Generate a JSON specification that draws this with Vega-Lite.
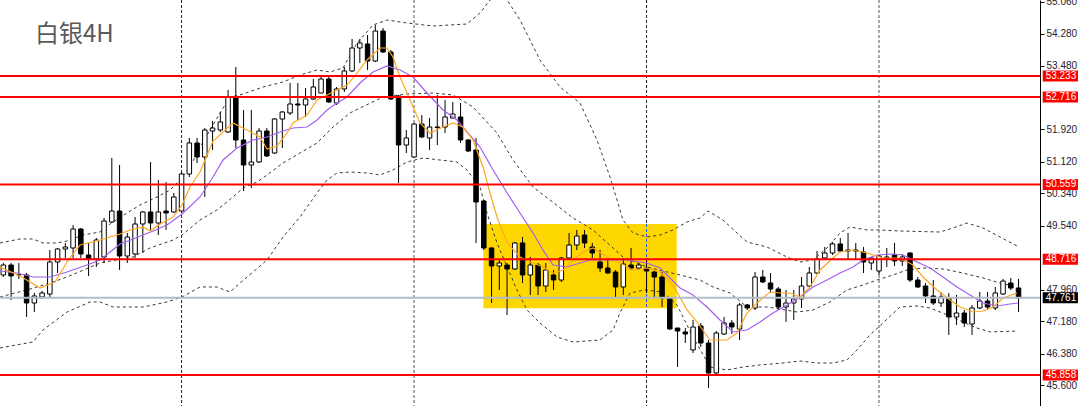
{
  "$schema": "https://vega.github.io/schema/vega-lite/v6.json",
  "width": 1040,
  "height": 406,
  "autosize": {"type": "none"},
  "padding": {"left": 0, "top": 0, "right": 40, "bottom": 0},
  "background": "#ffffff",
  "config": {"view": {"stroke": null}, "axis": {"grid": false}},
  "datasets": {
    "candles": [
      {"i":0,"o":48.325,"h":48.621,"l":48.275,"c":48.571},
      {"i":1,"o":48.571,"h":48.621,"l":47.708,"c":48.300},
      {"i":2,"o":48.33,"h":48.621,"l":48.226,"c":48.33},
      {"i":3,"o":48.325,"h":48.374,"l":47.289,"c":47.634},
      {"i":4,"o":47.634,"h":47.881,"l":47.412,"c":47.807},
      {"i":5,"o":47.782,"h":47.930,"l":47.733,"c":47.881},
      {"i":6,"o":47.856,"h":48.941,"l":47.757,"c":48.645},
      {"i":7,"o":48.645,"h":48.991,"l":48.374,"c":48.966},
      {"i":8,"o":48.966,"h":49.114,"l":48.744,"c":49.015},
      {"i":9,"o":48.991,"h":49.558,"l":48.744,"c":49.459},
      {"i":10,"o":49.459,"h":49.484,"l":48.744,"c":48.843},
      {"i":11,"o":48.818,"h":49.114,"l":48.300,"c":48.720},
      {"i":12,"o":48.720,"h":49.237,"l":48.522,"c":49.188},
      {"i":13,"o":48.769,"h":49.731,"l":48.621,"c":49.657},
      {"i":14,"o":49.632,"h":51.211,"l":49.607,"c":49.903},
      {"i":15,"o":49.903,"h":51.038,"l":48.448,"c":48.793},
      {"i":16,"o":48.793,"h":49.361,"l":48.621,"c":49.262},
      {"i":17,"o":48.843,"h":49.755,"l":48.744,"c":49.583},
      {"i":18,"o":49.583,"h":49.903,"l":48.867,"c":49.879},
      {"i":19,"o":49.879,"h":51.112,"l":49.435,"c":49.607},
      {"i":20,"o":49.607,"h":50.668,"l":49.311,"c":49.879},
      {"i":21,"o":49.903,"h":50.619,"l":49.435,"c":49.854},
      {"i":22,"o":49.879,"h":50.347,"l":49.854,"c":50.249},
      {"i":23,"o":49.903,"h":50.865,"l":49.854,"c":50.816},
      {"i":24,"o":50.816,"h":51.704,"l":50.742,"c":51.581},
      {"i":25,"o":51.581,"h":51.704,"l":51.087,"c":51.235},
      {"i":26,"o":51.235,"h":51.950,"l":50.249,"c":51.901},
      {"i":27,"o":51.876,"h":52.123,"l":51.408,"c":51.950},
      {"i":28,"o":51.901,"h":52.345,"l":51.852,"c":52.099},
      {"i":29,"o":51.852,"h":52.888,"l":51.827,"c":52.715},
      {"i":30,"o":52.715,"h":53.455,"l":51.457,"c":51.655},
      {"i":31,"o":51.655,"h":52.395,"l":50.397,"c":51.038},
      {"i":32,"o":51.038,"h":52.395,"l":50.471,"c":51.112},
      {"i":33,"o":51.112,"h":51.950,"l":51.087,"c":51.876},
      {"i":34,"o":51.876,"h":51.950,"l":51.235,"c":51.260},
      {"i":35,"o":51.334,"h":52.197,"l":51.309,"c":52.173},
      {"i":36,"o":52.173,"h":52.370,"l":51.457,"c":52.345},
      {"i":37,"o":52.321,"h":53.061,"l":52.271,"c":52.543},
      {"i":38,"o":52.543,"h":53.061,"l":52.148,"c":52.518},
      {"i":39,"o":52.518,"h":52.937,"l":52.222,"c":52.666},
      {"i":40,"o":52.666,"h":53.159,"l":52.641,"c":52.962},
      {"i":41,"o":52.814,"h":53.233,"l":52.814,"c":53.159},
      {"i":42,"o":53.159,"h":53.209,"l":52.567,"c":52.592},
      {"i":43,"o":52.567,"h":52.962,"l":52.518,"c":52.913},
      {"i":44,"o":52.913,"h":53.455,"l":52.839,"c":53.357},
      {"i":45,"o":53.357,"h":54.146,"l":53.332,"c":53.924},
      {"i":46,"o":53.924,"h":54.146,"l":53.554,"c":54.047},
      {"i":47,"o":54.023,"h":54.245,"l":53.381,"c":53.603},
      {"i":48,"o":53.603,"h":54.491,"l":53.579,"c":54.343},
      {"i":49,"o":54.343,"h":54.417,"l":53.801,"c":53.825},
      {"i":50,"o":53.825,"h":53.875,"l":52.641,"c":52.666},
      {"i":51,"o":52.740,"h":52.765,"l":50.594,"c":51.531},
      {"i":52,"o":51.531,"h":51.901,"l":51.334,"c":51.704},
      {"i":53,"o":51.235,"h":52.074,"l":51.211,"c":52.049},
      {"i":54,"o":52.049,"h":52.271,"l":51.704,"c":51.729},
      {"i":55,"o":51.704,"h":52.197,"l":51.408,"c":51.975},
      {"i":56,"o":51.975,"h":52.765,"l":51.531,"c":51.965},
      {"i":57,"o":51.975,"h":52.641,"l":51.827,"c":52.222},
      {"i":58,"o":52.197,"h":52.592,"l":52.197,"c":52.296},
      {"i":59,"o":52.222,"h":52.567,"l":51.581,"c":51.655},
      {"i":60,"o":51.655,"h":51.680,"l":51.359,"c":51.383},
      {"i":61,"o":51.408,"h":51.704,"l":49.114,"c":50.125},
      {"i":62,"o":50.150,"h":50.175,"l":48.941,"c":48.991},
      {"i":63,"o":48.991,"h":49.015,"l":47.634,"c":48.547},
      {"i":64,"o":48.547,"h":48.695,"l":47.955,"c":48.621},
      {"i":65,"o":48.571,"h":48.621,"l":47.338,"c":48.473},
      {"i":66,"o":48.473,"h":49.139,"l":48.448,"c":49.114},
      {"i":67,"o":49.114,"h":49.262,"l":48.127,"c":48.325},
      {"i":68,"o":48.325,"h":48.769,"l":47.831,"c":48.571},
      {"i":69,"o":48.571,"h":48.621,"l":47.831,"c":48.053},
      {"i":70,"o":48.053,"h":48.621,"l":47.905,"c":48.448},
      {"i":71,"o":48.325,"h":48.448,"l":47.955,"c":48.201},
      {"i":72,"o":48.201,"h":48.769,"l":48.152,"c":48.744},
      {"i":73,"o":48.744,"h":49.361,"l":48.695,"c":49.065},
      {"i":74,"o":49.065,"h":49.435,"l":48.941,"c":49.286},
      {"i":75,"o":49.311,"h":49.435,"l":48.991,"c":49.114},
      {"i":76,"o":49.015,"h":49.114,"l":48.744,"c":48.867},
      {"i":77,"o":48.645,"h":48.941,"l":48.399,"c":48.497},
      {"i":78,"o":48.497,"h":48.695,"l":48.349,"c":48.374},
      {"i":79,"o":48.399,"h":48.448,"l":47.782,"c":48.029},
      {"i":80,"o":48.029,"h":48.744,"l":47.831,"c":48.596},
      {"i":81,"o":48.571,"h":48.991,"l":48.448,"c":48.497},
      {"i":82,"o":48.497,"h":48.621,"l":48.448,"c":48.571},
      {"i":83,"o":48.497,"h":48.744,"l":47.881,"c":48.423},
      {"i":84,"o":48.399,"h":48.423,"l":47.782,"c":48.275},
      {"i":85,"o":48.275,"h":48.399,"l":47.535,"c":47.757},
      {"i":86,"o":47.757,"h":47.782,"l":46.968,"c":46.993},
      {"i":87,"o":47.017,"h":47.017,"l":46.055,"c":46.943},
      {"i":88,"o":46.919,"h":47.017,"l":46.647,"c":46.869},
      {"i":89,"o":46.475,"h":47.215,"l":46.401,"c":47.042},
      {"i":90,"o":47.067,"h":47.141,"l":46.549,"c":46.647},
      {"i":91,"o":46.647,"h":46.721,"l":45.537,"c":45.908},
      {"i":92,"o":45.908,"h":46.943,"l":45.883,"c":46.894},
      {"i":93,"o":46.869,"h":47.289,"l":46.845,"c":47.141},
      {"i":94,"o":47.141,"h":47.215,"l":46.869,"c":47.042},
      {"i":95,"o":46.993,"h":47.634,"l":46.721,"c":47.585},
      {"i":96,"o":47.585,"h":47.609,"l":47.461,"c":47.511},
      {"i":97,"o":47.511,"h":48.399,"l":47.461,"c":48.275},
      {"i":98,"o":48.275,"h":48.448,"l":48.127,"c":48.152},
      {"i":99,"o":48.127,"h":48.374,"l":47.881,"c":47.979},
      {"i":100,"o":47.979,"h":48.029,"l":47.461,"c":47.535},
      {"i":101,"o":47.535,"h":47.955,"l":47.166,"c":47.634},
      {"i":102,"o":47.634,"h":47.955,"l":47.215,"c":47.733},
      {"i":103,"o":47.733,"h":48.275,"l":47.511,"c":48.053},
      {"i":104,"o":48.053,"h":48.522,"l":48.029,"c":48.374},
      {"i":105,"o":48.374,"h":48.916,"l":48.349,"c":48.720},
      {"i":106,"o":48.744,"h":49.015,"l":48.695,"c":48.867},
      {"i":107,"o":48.867,"h":49.139,"l":48.818,"c":49.090},
      {"i":108,"o":49.090,"h":49.237,"l":48.892,"c":48.916},
      {"i":109,"o":48.916,"h":49.361,"l":48.720,"c":48.940},
      {"i":110,"o":48.941,"h":49.114,"l":48.720,"c":48.916},
      {"i":111,"o":48.892,"h":49.015,"l":48.374,"c":48.645},
      {"i":112,"o":48.621,"h":48.769,"l":48.448,"c":48.744},
      {"i":113,"o":48.423,"h":48.818,"l":48.325,"c":48.793},
      {"i":114,"o":48.744,"h":48.991,"l":48.522,"c":48.769},
      {"i":115,"o":48.818,"h":49.114,"l":48.547,"c":48.670},
      {"i":116,"o":48.670,"h":48.843,"l":48.547,"c":48.769},
      {"i":117,"o":48.867,"h":48.892,"l":48.152,"c":48.201},
      {"i":118,"o":48.201,"h":48.275,"l":48.004,"c":48.029},
      {"i":119,"o":48.053,"h":48.127,"l":47.634,"c":47.807},
      {"i":120,"o":47.807,"h":48.201,"l":47.585,"c":47.634},
      {"i":121,"o":47.634,"h":47.905,"l":47.535,"c":47.782},
      {"i":122,"o":47.757,"h":47.881,"l":46.845,"c":47.289},
      {"i":123,"o":47.289,"h":47.832,"l":47.092,"c":47.387},
      {"i":124,"o":47.387,"h":47.461,"l":47.042,"c":47.141},
      {"i":125,"o":47.116,"h":47.585,"l":46.845,"c":47.511},
      {"i":126,"o":47.511,"h":47.905,"l":47.486,"c":47.683},
      {"i":127,"o":47.683,"h":47.905,"l":47.461,"c":47.535},
      {"i":128,"o":47.511,"h":48.029,"l":47.461,"c":47.881},
      {"i":129,"o":47.856,"h":48.226,"l":47.832,"c":48.176},
      {"i":130,"o":48.127,"h":48.251,"l":47.955,"c":48.004},
      {"i":131,"o":48.004,"h":48.226,"l":47.412,"c":47.761}
    ],
    "bands": [
      {"b":"U","i":-0.43,"v":49.114},{"b":"U","i":2.15,"v":49.213},{"b":"U","i":3.83,"v":49.213},{"b":"U","i":5.12,"v":49.114},
      {"b":"U","i":6.93,"v":49.114},{"b":"U","i":8.22,"v":49.163},{"b":"U","i":10.28,"v":49.311},{"b":"U","i":12.48,"v":49.386},
      {"b":"U","i":13.77,"v":49.583},{"b":"U","i":15.96,"v":49.854},{"b":"U","i":17.64,"v":50.051},{"b":"U","i":19.83,"v":50.249},
      {"b":"U","i":21.51,"v":50.421},{"b":"U","i":22.80,"v":50.668},{"b":"U","i":24.09,"v":50.989},{"b":"U","i":25.38,"v":51.482},
      {"b":"U","i":26.67,"v":51.901},{"b":"U","i":27.96,"v":52.321},{"b":"U","i":29.25,"v":52.715},{"b":"U","i":30.54,"v":52.765},
      {"b":"U","i":33.51,"v":52.962},{"b":"U","i":36.09,"v":53.085},{"b":"U","i":38.28,"v":53.258},{"b":"U","i":40.48,"v":53.381},
      {"b":"U","i":42.16,"v":53.332},{"b":"U","i":43.83,"v":53.431},{"b":"U","i":45.64,"v":54.047},{"b":"U","i":47.70,"v":54.491},
      {"b":"U","i":49.51,"v":54.615},{"b":"U","i":52.09,"v":54.541},{"b":"U","i":55.45,"v":54.467},{"b":"U","i":59.83,"v":54.516},
      {"b":"U","i":61.51,"v":54.787},{"b":"U","i":62.80,"v":55.108},{"b":"U","i":63.83,"v":55.256},{"b":"U","i":65.01,"v":55.108},
      {"b":"U","i":66.67,"v":54.615},{"b":"U","i":69.25,"v":53.628},{"b":"U","i":71.83,"v":52.962},{"b":"U","i":74.41,"v":52.567},
      {"b":"U","i":76.61,"v":51.655},{"b":"U","i":78.28,"v":50.742},{"b":"U","i":79.19,"v":50.175},{"b":"U","i":79.96,"v":49.681},
      {"b":"U","i":81.25,"v":49.361},{"b":"U","i":83.06,"v":49.262},{"b":"U","i":84.74,"v":49.311},{"b":"U","i":86.41,"v":49.435},
      {"b":"U","i":88.22,"v":49.632},{"b":"U","i":89.90,"v":49.731},{"b":"U","i":90.93,"v":49.903},{"b":"U","i":92.86,"v":49.681},
      {"b":"U","i":94.67,"v":49.361},{"b":"U","i":95.96,"v":49.139},{"b":"U","i":98.54,"v":49.015},{"b":"U","i":101.12,"v":48.769},
      {"b":"U","i":102.80,"v":48.645},{"b":"U","i":104.48,"v":48.695},{"b":"U","i":106.28,"v":48.991},{"b":"U","i":107.96,"v":49.361},
      {"b":"U","i":109.25,"v":49.509},{"b":"U","i":111.45,"v":49.435},{"b":"U","i":113.12,"v":49.435},{"b":"U","i":115.70,"v":49.410},
      {"b":"U","i":120.86,"v":49.385},{"b":"U","i":122.54,"v":49.484},{"b":"U","i":124.35,"v":49.607},{"b":"U","i":126.41,"v":49.484},
      {"b":"U","i":128.61,"v":49.262},{"b":"U","i":130.81,"v":49.040},
      {"b":"M","i":-0.43,"v":47.782},{"b":"M","i":3.45,"v":47.979},{"b":"M","i":6.03,"v":48.127},{"b":"M","i":8.22,"v":48.275},
      {"b":"M","i":12.48,"v":48.621},{"b":"M","i":16.74,"v":48.769},{"b":"M","i":18.93,"v":48.991},{"b":"M","i":21.90,"v":49.188},
      {"b":"M","i":23.06,"v":49.311},{"b":"M","i":25.38,"v":49.681},{"b":"M","i":27.57,"v":49.928},{"b":"M","i":29.64,"v":50.249},
      {"b":"M","i":30.93,"v":50.471},{"b":"M","i":32.74,"v":50.619},{"b":"M","i":34.03,"v":50.791},{"b":"M","i":36.09,"v":51.087},
      {"b":"M","i":38.28,"v":51.334},{"b":"M","i":40.48,"v":51.581},{"b":"M","i":42.54,"v":51.975},{"b":"M","i":44.74,"v":52.321},
      {"b":"M","i":46.03,"v":52.444},{"b":"M","i":48.99,"v":52.715},{"b":"M","i":52.09,"v":52.789},{"b":"M","i":55.45,"v":52.814},
      {"b":"M","i":58.03,"v":52.765},{"b":"M","i":60.61,"v":52.469},{"b":"M","i":63.70,"v":51.827},{"b":"M","i":65.77,"v":51.161},
      {"b":"M","i":68.35,"v":50.495},{"b":"M","i":70.54,"v":50.175},{"b":"M","i":73.51,"v":49.731},{"b":"M","i":76.09,"v":49.435},
      {"b":"M","i":79.96,"v":48.769},{"b":"M","i":83.06,"v":48.522},{"b":"M","i":85.64,"v":48.399},{"b":"M","i":87.32,"v":48.325},
      {"b":"M","i":89.90,"v":48.201},{"b":"M","i":91.57,"v":48.029},{"b":"M","i":93.77,"v":47.881},{"b":"M","i":95.96,"v":47.535},
      {"b":"M","i":98.54,"v":47.535},{"b":"M","i":100.22,"v":47.486},{"b":"M","i":102.41,"v":47.412},{"b":"M","i":104.48,"v":47.461},
      {"b":"M","i":106.67,"v":47.659},{"b":"M","i":108.86,"v":47.955},{"b":"M","i":110.54,"v":48.053},{"b":"M","i":112.74,"v":48.201},
      {"b":"M","i":114.80,"v":48.325},{"b":"M","i":116.61,"v":48.448},{"b":"M","i":118.67,"v":48.497},{"b":"M","i":121.25,"v":48.473},
      {"b":"M","i":123.83,"v":48.374},{"b":"M","i":126.41,"v":48.251},{"b":"M","i":128.61,"v":48.127},{"b":"M","i":130.81,"v":48.029},
      {"b":"L","i":-0.43,"v":46.524},{"b":"L","i":3.83,"v":46.672},{"b":"L","i":5.12,"v":46.968},{"b":"L","i":8.22,"v":47.412},
      {"b":"L","i":11.19,"v":47.659},{"b":"L","i":12.48,"v":47.659},{"b":"L","i":14.16,"v":47.535},{"b":"L","i":18.03,"v":47.535},
      {"b":"L","i":21.12,"v":47.659},{"b":"L","i":23.06,"v":47.782},{"b":"L","i":25.38,"v":48.029},{"b":"L","i":27.57,"v":48.029},
      {"b":"L","i":29.25,"v":47.905},{"b":"L","i":30.54,"v":48.127},{"b":"L","i":32.22,"v":48.399},{"b":"L","i":34.03,"v":48.695},
      {"b":"L","i":36.09,"v":49.262},{"b":"L","i":38.28,"v":49.755},{"b":"L","i":40.48,"v":50.347},{"b":"L","i":41.77,"v":50.668},
      {"b":"L","i":43.06,"v":50.841},{"b":"L","i":44.74,"v":50.865},{"b":"L","i":46.93,"v":50.841},{"b":"L","i":48.61,"v":50.791},
      {"b":"L","i":50.28,"v":50.915},{"b":"L","i":52.09,"v":51.112},{"b":"L","i":54.16,"v":51.211},{"b":"L","i":56.35,"v":51.161},
      {"b":"L","i":58.54,"v":51.112},{"b":"L","i":59.83,"v":50.915},{"b":"L","i":61.51,"v":50.495},{"b":"L","i":62.41,"v":49.854},
      {"b":"L","i":63.70,"v":49.114},{"b":"L","i":65.01,"v":48.522},{"b":"L","i":66.28,"v":47.955},{"b":"L","i":67.57,"v":47.461},
      {"b":"L","i":69.25,"v":47.141},{"b":"L","i":71.45,"v":46.795},{"b":"L","i":73.51,"v":46.672},{"b":"L","i":76.99,"v":46.721},
      {"b":"L","i":78.67,"v":46.968},{"b":"L","i":79.57,"v":47.387},{"b":"L","i":80.86,"v":47.881},{"b":"L","i":82.80,"v":47.955},
      {"b":"L","i":85.12,"v":47.905},{"b":"L","i":86.93,"v":47.585},{"b":"L","i":88.86,"v":46.845},{"b":"L","i":91.19,"v":46.055},
      {"b":"L","i":93.38,"v":45.981},{"b":"L","i":95.45,"v":46.055},{"b":"L","i":97.64,"v":46.105},{"b":"L","i":100.61,"v":46.154},
      {"b":"L","i":102.80,"v":46.203},{"b":"L","i":104.99,"v":46.154},{"b":"L","i":107.06,"v":46.154},{"b":"L","i":108.86,"v":46.228},
      {"b":"L","i":110.15,"v":46.475},{"b":"L","i":111.83,"v":46.845},{"b":"L","i":113.51,"v":47.141},{"b":"L","i":115.70,"v":47.535},
      {"b":"L","i":117.90,"v":47.560},{"b":"L","i":119.58,"v":47.511},{"b":"L","i":122.16,"v":47.313},{"b":"L","i":124.09,"v":47.141},
      {"b":"L","i":125.64,"v":47.017},{"b":"L","i":127.32,"v":46.919},{"b":"L","i":130.81,"v":46.943}
    ],
    "averages": [
      {"s":"slow","i":-0.43,"v":48.423},{"s":"slow","i":1.77,"v":48.374},{"s":"slow","i":3.83,"v":48.275},{"s":"slow","i":6.03,"v":48.275},
      {"s":"slow","i":8.22,"v":48.399},{"s":"slow","i":10.80,"v":48.571},{"s":"slow","i":12.48,"v":48.695},{"s":"slow","i":13.77,"v":48.892},
      {"s":"slow","i":15.06,"v":49.089},{"s":"slow","i":16.74,"v":49.213},{"s":"slow","i":19.32,"v":49.410},{"s":"slow","i":21.12,"v":49.558},
      {"s":"slow","i":23.06,"v":49.829},{"s":"slow","i":25.38,"v":50.249},{"s":"slow","i":27.06,"v":50.742},{"s":"slow","i":28.35,"v":51.161},
      {"s":"slow","i":30.16,"v":51.457},{"s":"slow","i":32.22,"v":51.655},{"s":"slow","i":34.03,"v":51.729},{"s":"slow","i":35.70,"v":51.852},
      {"s":"slow","i":37.38,"v":51.950},{"s":"slow","i":39.19,"v":51.975},{"s":"slow","i":40.48,"v":52.148},{"s":"slow","i":41.77,"v":52.395},
      {"s":"slow","i":43.06,"v":52.567},{"s":"slow","i":44.35,"v":52.715},{"s":"slow","i":46.03,"v":53.061},{"s":"slow","i":47.70,"v":53.332},
      {"s":"slow","i":49.51,"v":53.480},{"s":"slow","i":51.19,"v":53.381},{"s":"slow","i":52.86,"v":53.209},{"s":"slow","i":54.67,"v":52.814},
      {"s":"slow","i":56.74,"v":52.395},{"s":"slow","i":58.54,"v":52.148},{"s":"slow","i":59.83,"v":51.852},{"s":"slow","i":61.51,"v":51.482},
      {"s":"slow","i":63.19,"v":50.915},{"s":"slow","i":65.01,"v":50.347},{"s":"slow","i":66.67,"v":49.854},{"s":"slow","i":68.35,"v":49.361},
      {"s":"slow","i":69.64,"v":48.941},{"s":"slow","i":70.93,"v":48.571},{"s":"slow","i":72.74,"v":48.522},{"s":"slow","i":74.41,"v":48.621},
      {"s":"slow","i":75.71,"v":48.695},{"s":"slow","i":77.90,"v":48.695},{"s":"slow","i":80.48,"v":48.695},{"s":"slow","i":83.06,"v":48.621},
      {"s":"slow","i":84.74,"v":48.497},{"s":"slow","i":87.32,"v":48.004},{"s":"slow","i":88.99,"v":47.832},{"s":"slow","i":90.80,"v":47.535},
      {"s":"slow","i":92.48,"v":47.215},{"s":"slow","i":94.16,"v":46.919},{"s":"slow","i":95.96,"v":46.968},{"s":"slow","i":97.64,"v":47.166},
      {"s":"slow","i":99.32,"v":47.387},{"s":"slow","i":101.12,"v":47.585},{"s":"slow","i":102.80,"v":47.782},{"s":"slow","i":104.48,"v":48.029},
      {"s":"slow","i":106.28,"v":48.201},{"s":"slow","i":107.96,"v":48.374},{"s":"slow","i":109.64,"v":48.522},{"s":"slow","i":110.93,"v":48.695},
      {"s":"slow","i":112.74,"v":48.818},{"s":"slow","i":114.80,"v":48.843},{"s":"slow","i":116.09,"v":48.818},{"s":"slow","i":117.90,"v":48.645},
      {"s":"slow","i":119.58,"v":48.497},{"s":"slow","i":121.25,"v":48.275},{"s":"slow","i":123.06,"v":48.029},{"s":"slow","i":124.74,"v":47.832},
      {"s":"slow","i":126.41,"v":47.634},{"s":"slow","i":128.22,"v":47.560},{"s":"slow","i":129.90,"v":47.609},{"s":"slow","i":130.94,"v":47.634},
      {"s":"fast","i":-0.43,"v":48.522},{"s":"fast","i":2.15,"v":48.300},{"s":"fast","i":4.74,"v":48.004},{"s":"fast","i":6.67,"v":48.152},
      {"s":"fast","i":8.22,"v":48.645},{"s":"fast","i":9.90,"v":49.065},{"s":"fast","i":12.48,"v":49.188},{"s":"fast","i":15.06,"v":49.336},
      {"s":"fast","i":16.35,"v":49.435},{"s":"fast","i":18.03,"v":49.509},{"s":"fast","i":18.93,"v":49.410},{"s":"fast","i":20.22,"v":49.583},
      {"s":"fast","i":21.90,"v":49.755},{"s":"fast","i":23.06,"v":50.051},{"s":"fast","i":24.09,"v":50.495},{"s":"fast","i":25.38,"v":50.865},
      {"s":"fast","i":27.06,"v":51.630},{"s":"fast","i":29.64,"v":52.074},{"s":"fast","i":31.45,"v":51.901},{"s":"fast","i":33.12,"v":51.729},
      {"s":"fast","i":34.03,"v":51.433},{"s":"fast","i":35.32,"v":51.507},{"s":"fast","i":36.61,"v":51.827},{"s":"fast","i":37.38,"v":52.074},
      {"s":"fast","i":39.19,"v":52.271},{"s":"fast","i":40.48,"v":52.641},{"s":"fast","i":41.77,"v":52.765},{"s":"fast","i":43.06,"v":52.888},
      {"s":"fast","i":44.35,"v":53.011},{"s":"fast","i":45.64,"v":53.307},{"s":"fast","i":46.93,"v":53.628},{"s":"fast","i":48.61,"v":53.924},
      {"s":"fast","i":49.51,"v":53.924},{"s":"fast","i":50.28,"v":53.702},{"s":"fast","i":51.19,"v":53.209},{"s":"fast","i":52.48,"v":52.641},
      {"s":"fast","i":53.77,"v":52.074},{"s":"fast","i":55.06,"v":51.827},{"s":"fast","i":56.74,"v":51.975},{"s":"fast","i":58.03,"v":52.074},
      {"s":"fast","i":59.32,"v":51.975},{"s":"fast","i":60.61,"v":51.655},{"s":"fast","i":61.90,"v":50.989},{"s":"fast","i":62.80,"v":50.347},
      {"s":"fast","i":63.70,"v":49.755},{"s":"fast","i":65.01,"v":49.114},{"s":"fast","i":66.67,"v":48.769},{"s":"fast","i":68.35,"v":48.621},
      {"s":"fast","i":69.64,"v":48.522},{"s":"fast","i":70.93,"v":48.374},{"s":"fast","i":72.22,"v":48.448},{"s":"fast","i":73.51,"v":48.695},
      {"s":"fast","i":74.80,"v":48.892},{"s":"fast","i":76.09,"v":48.991},{"s":"fast","i":77.90,"v":48.769},{"s":"fast","i":79.57,"v":48.621},
      {"s":"fast","i":81.25,"v":48.448},{"s":"fast","i":83.06,"v":48.497},{"s":"fast","i":84.74,"v":48.399},{"s":"fast","i":86.41,"v":48.078},
      {"s":"fast","i":88.22,"v":47.461},{"s":"fast","i":89.51,"v":47.165},{"s":"fast","i":91.19,"v":46.721},{"s":"fast","i":93.38,"v":46.721},
      {"s":"fast","i":94.67,"v":46.894},{"s":"fast","i":95.96,"v":47.387},{"s":"fast","i":97.25,"v":47.634},{"s":"fast","i":98.93,"v":47.905},
      {"s":"fast","i":100.22,"v":47.881},{"s":"fast","i":101.51,"v":47.881},{"s":"fast","i":102.80,"v":47.782},{"s":"fast","i":104.09,"v":48.029},
      {"s":"fast","i":105.38,"v":48.448},{"s":"fast","i":107.06,"v":48.744},{"s":"fast","i":107.96,"v":48.892},{"s":"fast","i":109.64,"v":48.941},
      {"s":"fast","i":111.45,"v":48.867},{"s":"fast","i":113.51,"v":48.744},{"s":"fast","i":115.70,"v":48.744},{"s":"fast","i":117.38,"v":48.571},
      {"s":"fast","i":118.67,"v":48.275},{"s":"fast","i":120.48,"v":47.955},{"s":"fast","i":122.16,"v":47.708},{"s":"fast","i":123.45,"v":47.535},
      {"s":"fast","i":125.12,"v":47.412},{"s":"fast","i":126.41,"v":47.437},{"s":"fast","i":127.70,"v":47.535},{"s":"fast","i":129.01,"v":47.757},
      {"s":"fast","i":130.81,"v":47.881}
    ],
    "levels": [{"v":53.233},{"v":52.716},{"v":50.559},{"v":48.716},{"v":45.858}],
    "tags": [
      {"v":53.233,"k":"level"},{"v":52.716,"k":"level"},{"v":50.559,"k":"level"},
      {"v":48.716,"k":"level"},{"v":45.858,"k":"level"},{"v":47.761,"k":"last"}
    ]
  },
  "layer": [
    {
      "data": {"values": [{"i": 23}, {"i": 83}]},
      "mark": {"type": "rule", "color": "#222222", "strokeWidth": 1, "strokeDash": [3, 2]},
      "encoding": {"x": {"field": "i", "type": "quantitative", "scale": {"domain": [-0.43, 133.77], "padding": 0}, "axis": null}}
    },
    {
      "data": {"values": [{"i": 53}, {"i": 113}]},
      "mark": {"type": "rule", "color": "#8c8c8c", "strokeWidth": 1.5, "strokeDash": [3, 2]},
      "encoding": {"x": {"field": "i", "type": "quantitative", "scale": {"domain": [-0.43, 133.77], "padding": 0}, "axis": null}}
    },
    {
      "data": {"values": [{"i0": 61.94, "i1": 86.89, "hi": 49.583, "lo": 47.503}]},
      "mark": {"type": "rect", "color": "#FFD700"},
      "encoding": {
        "x": {"field": "i0", "type": "quantitative", "scale": {"domain": [-0.43, 133.77], "padding": 0}, "axis": null},
        "x2": {"field": "i1"},
        "y": {"field": "hi", "type": "quantitative", "scale": {"domain": [45.093, 55.108], "zero": false, "nice": false, "padding": 0}, "axis": {"title": null}},
        "y2": {"field": "lo"}
      }
    },
    {
      "data": {"values": [{"i": 83, "hi": 49.583, "lo": 47.503}]},
      "mark": {"type": "rule", "color": "#1f4fff", "strokeWidth": 1, "strokeDash": [3, 2]},
      "encoding": {
        "x": {"field": "i", "type": "quantitative", "scale": {"domain": [-0.43, 133.77], "padding": 0}, "axis": null},
        "y": {"field": "hi", "type": "quantitative", "scale": {"domain": [45.093, 55.108], "zero": false, "nice": false, "padding": 0}, "axis": {"title": null}},
        "y2": {"field": "lo"}
      }
    },
    {
      "data": {"name": "bands"},
      "mark": {"type": "line", "color": "#3a3a3a", "strokeWidth": 1, "strokeDash": [3, 3], "clip": true},
      "encoding": {
        "x": {"field": "i", "type": "quantitative", "scale": {"domain": [-0.43, 133.77], "padding": 0}, "axis": null},
        "y": {"field": "v", "type": "quantitative", "scale": {"domain": [45.093, 55.108], "zero": false, "nice": false, "padding": 0}, "axis": {"title": null}},
        "detail": {"field": "b", "type": "nominal"}
      }
    },
    {
      "data": {"name": "candles"},
      "mark": {"type": "rule", "color": "#000000", "strokeWidth": 1},
      "encoding": {
        "x": {"field": "i", "type": "quantitative", "scale": {"domain": [-0.43, 133.77], "padding": 0}, "axis": null},
        "y": {"field": "l", "type": "quantitative", "scale": {"domain": [45.093, 55.108], "zero": false, "nice": false, "padding": 0}, "axis": {"title": null}},
        "y2": {"field": "h"}
      }
    },
    {
      "data": {"name": "candles"},
      "mark": {"type": "bar", "size": 4.5, "stroke": "#000000", "strokeWidth": 1},
      "encoding": {
        "x": {"field": "i", "type": "quantitative", "scale": {"domain": [-0.43, 133.77], "padding": 0}, "axis": null},
        "y": {"field": "o", "type": "quantitative", "scale": {"domain": [45.093, 55.108], "zero": false, "nice": false, "padding": 0}, "axis": {"title": null}},
        "y2": {"field": "c"},
        "fill": {"condition": {"test": "datum.c >= datum.o", "value": "#ffffff"}, "value": "#000000"}
      }
    },
    {
      "data": {"name": "averages"},
      "mark": {"type": "line", "strokeWidth": 1.2},
      "encoding": {
        "x": {"field": "i", "type": "quantitative", "scale": {"domain": [-0.43, 133.77], "padding": 0}, "axis": null},
        "y": {"field": "v", "type": "quantitative", "scale": {"domain": [45.093, 55.108], "zero": false, "nice": false, "padding": 0}, "axis": {"title": null}},
        "color": {"field": "s", "type": "nominal", "scale": {"domain": ["slow", "fast"], "range": ["#a060f0", "#ffa620"]}, "legend": null}
      }
    },
    {
      "data": {"values": [{"v": 47.761}]},
      "mark": {"type": "rule", "color": "#b4bcc6", "strokeWidth": 2},
      "encoding": {
        "y": {"field": "v", "type": "quantitative", "scale": {"domain": [45.093, 55.108], "zero": false, "nice": false, "padding": 0}, "axis": {"title": null}}
      }
    },
    {
      "data": {"name": "levels"},
      "mark": {"type": "rule", "color": "#ff0000", "strokeWidth": 2},
      "encoding": {
        "y": {
          "field": "v", "type": "quantitative",
          "scale": {"domain": [45.093, 55.108], "zero": false, "nice": false, "padding": 0},
          "axis": {
            "orient": "right", "title": null, "grid": false,
            "values": [55.06, 54.28, 53.48, 51.92, 51.12, 50.34, 49.54, 47.96, 47.18, 46.38, 45.6],
            "format": ".3f", "domainColor": "#000000", "domainWidth": 1,
            "tickColor": "#000000", "tickSize": 4, "labelPadding": 2,
            "labelFont": "Liberation Sans", "labelFontSize": 10, "labelColor": "#1f2230",
            "labelOverlap": false, "labelFlush": false, "labelBaseline": "middle"
          }
        }
      }
    },
    {
      "data": {"name": "tags"},
      "mark": {"type": "bar", "orient": "horizontal", "size": 11},
      "encoding": {
        "x": {"datum": 134.12, "type": "quantitative", "scale": {"domain": [-0.43, 133.77], "padding": 0}, "axis": null},
        "x2": {"datum": 138.67},
        "y": {"field": "v", "type": "quantitative", "scale": {"domain": [45.093, 55.108], "zero": false, "nice": false, "padding": 0}, "axis": {"title": null}},
        "color": {"condition": {"test": "datum.k === 'last'", "value": "#000000"}, "value": "#ff0000"}
      }
    },
    {
      "data": {"name": "tags"},
      "mark": {"type": "text", "align": "left", "baseline": "middle", "font": "Liberation Sans", "fontSize": 10, "color": "#ffffff"},
      "encoding": {
        "x": {"datum": 134.5, "type": "quantitative", "scale": {"domain": [-0.43, 133.77], "padding": 0}, "axis": null},
        "y": {"field": "v", "type": "quantitative", "scale": {"domain": [45.093, 55.108], "zero": false, "nice": false, "padding": 0}, "axis": {"title": null}},
        "text": {"field": "v", "type": "quantitative", "format": ".3f"}
      }
    },
    {
      "data": {"values": [{"name": "白银4H"}]},
      "mark": {"type": "text", "align": "left", "baseline": "alphabetic", "font": "Noto Sans CJK SC", "fontSize": 24, "color": "#5a5a5a"},
      "encoding": {
        "x": {"datum": 4.09, "type": "quantitative", "scale": {"domain": [-0.43, 133.77], "padding": 0}, "axis": null},
        "y": {"datum": 54.06, "type": "quantitative", "scale": {"domain": [45.093, 55.108], "zero": false, "nice": false, "padding": 0}, "axis": {"title": null}},
        "text": {"field": "name", "type": "nominal"}
      }
    }
  ]
}
